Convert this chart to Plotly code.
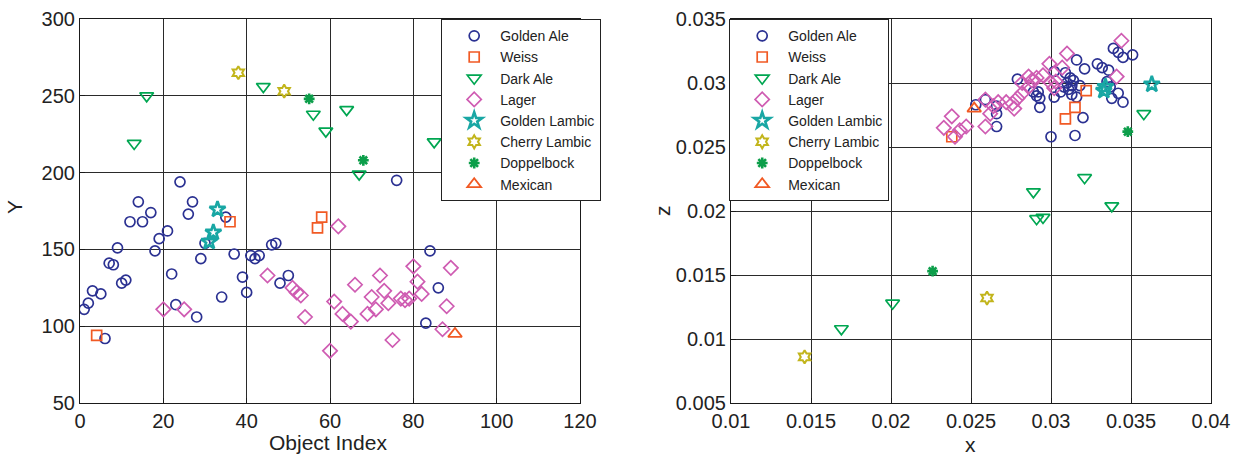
import plotly.graph_objects as go

# ---- Y vs object index ----
ale_idx = [1, 2, 3, 5, 6, 7, 8, 9, 10, 11, 12, 14, 15, 17, 18, 19, 21, 22, 23, 24,
           26, 27, 28, 29, 30, 34, 35, 37, 39, 40, 41, 42, 43, 46, 47, 48, 50, 76, 83, 84, 86]
ale_y = [111, 115, 123, 121, 92, 141, 140, 151, 128, 130, 168, 181, 168, 174, 149, 157, 162, 134, 114, 194,
         173, 181, 106, 144, 154, 119, 171, 147, 132, 122, 146, 144, 146, 153, 154, 128, 133, 195, 102, 149, 125]
weiss_idx = [4, 36, 57, 58]
weiss_y = [94, 168, 164, 171]
dark_idx = [13, 16, 44, 56, 59, 64, 67, 85]
dark_y = [219, 250, 256, 238, 227, 241, 199, 220]
lager_idx = [20, 25, 45, 51, 52, 53, 54, 60, 61, 62, 63, 65, 66, 69, 70, 71, 72, 73, 74, 75,
             77, 78, 79, 80, 81, 82, 87, 88, 89]
lager_y = [111, 111, 133, 125, 122, 120, 106, 84, 116, 165, 108, 103, 127, 108, 119, 111, 133, 123, 115, 91,
           118, 117, 118, 139, 129, 121, 98, 113, 138]
glambic_idx = [31, 32, 33]
glambic_y = [155, 161, 176]
cherry_idx = [38, 49]
cherry_y = [265, 253]
doppel_idx = [55, 68]
doppel_y = [248, 208]
mexican_idx = [90]
mexican_y = [95]

# ---- z vs x ----
ale_x = [0.0339, 0.0342, 0.0345, 0.0351, 0.0316, 0.0321, 0.0329, 0.0332, 0.0336, 0.0335,
         0.0342, 0.0338, 0.0345, 0.0320, 0.0315, 0.0300, 0.0302, 0.0309, 0.0312, 0.0310,
         0.0313, 0.0318, 0.0311, 0.0313, 0.0316, 0.0302, 0.0279, 0.0289, 0.0292, 0.0293,
         0.0293, 0.0266, 0.0259, 0.0266, 0.0266, 0.0253, 0.0308, 0.0314, 0.0291, 0.0337, 0.0306]
ale_z = [0.0327, 0.0324, 0.0320, 0.0322, 0.0318, 0.0311, 0.0315, 0.0312, 0.0310, 0.0301,
         0.0292, 0.0288, 0.0285, 0.0273, 0.0259, 0.0258, 0.0309, 0.0308, 0.0304, 0.0300,
         0.0298, 0.0298, 0.0295, 0.0291, 0.0289, 0.0289, 0.0303, 0.0293, 0.0293, 0.0288,
         0.0281, 0.0282, 0.0287, 0.0276, 0.0266, 0.0283, 0.0297, 0.0302, 0.0290, 0.0297, 0.0293]
weiss_x = [0.0322, 0.0315, 0.0309, 0.0238]
weiss_z = [0.0294, 0.0281, 0.0272, 0.0258]
dark_x = [0.0358, 0.0321, 0.0289, 0.0291, 0.0295, 0.0338, 0.0201, 0.0169]
dark_z = [0.0276, 0.0226, 0.0215, 0.0194, 0.0195, 0.0204, 0.0128, 0.0108]
lager_x = [0.0344, 0.0310, 0.0341, 0.0299, 0.0307, 0.0302, 0.0303, 0.0295, 0.0291, 0.0286,
           0.0282, 0.0286, 0.0282, 0.0279, 0.0272, 0.0277, 0.0267, 0.0259, 0.0262, 0.0259,
           0.0247, 0.0238, 0.0233, 0.0243, 0.0240, 0.0300, 0.0288, 0.0276, 0.0264]
lager_z = [0.0333, 0.0323, 0.0305, 0.0315, 0.0312, 0.0296, 0.0301, 0.0306, 0.0304, 0.0305,
           0.0300, 0.0297, 0.0292, 0.0288, 0.0285, 0.0280, 0.0285, 0.0287, 0.0276, 0.0266,
           0.0266, 0.0274, 0.0265, 0.0263, 0.0258, 0.0300, 0.0302, 0.0284, 0.0282]
glambic_x = [0.0334, 0.0333, 0.0363]
glambic_z = [0.0297, 0.0294, 0.0299]
cherry_x = [0.0146, 0.0260]
cherry_z = [0.0086, 0.0132]
doppel_x = [0.0348, 0.0226]
doppel_z = [0.0262, 0.0153]
mexican_x = [0.0252]
mexican_z = [0.0280]

FONT = "Liberation Sans, Arial, sans-serif"
TXT = "#222222"

beers = [
    # name, symbol, colour, size, line width, left data, right data
    ("Golden Ale", "circle-open", "#2B3192", 10, 1.7, (ale_idx, ale_y), (ale_x, ale_z)),
    ("Weiss", "square-open", "#F15A24", 10, 1.7, (weiss_idx, weiss_y), (weiss_x, weiss_z)),
    ("Dark Ale", "triangle-down-open", "#00A651", 12, 1.7, (dark_idx, dark_y), (dark_x, dark_z)),
    ("Lager", "diamond-open", "#CF5CB2", 11, 1.7, (lager_idx, lager_y), (lager_x, lager_z)),
    ("Golden Lambic", "star-open", "#19A7A4", 12, 2.6, (glambic_idx, glambic_y), (glambic_x, glambic_z)),
    ("Cherry Lambic", "hexagram-open", "#C2B51C", 10, 2.0, (cherry_idx, cherry_y), (cherry_x, cherry_z)),
    ("Doppelbock", "asterisk-open", "#0C9E4A", 9, 2.6, (doppel_idx, doppel_y), (doppel_x, doppel_z)),
    ("Mexican", "triangle-up-open", "#F15A24", 12, 1.8, (mexican_idx, mexican_y), (mexican_x, mexican_z)),
]

fig = go.Figure()
for name, sym, col, size, lw, (lx, ly), (rx, rz) in beers:
    marker = dict(symbol=sym, size=size, color=col, line=dict(color=col, width=lw))
    fig.add_trace(go.Scatter(x=lx, y=ly, mode="markers", name=name, marker=marker,
                             xaxis="x", yaxis="y", legend="legend"))
    fig.add_trace(go.Scatter(x=rx, y=rz, mode="markers", name=name, marker=marker,
                             xaxis="x2", yaxis="y2", legend="legend2"))

W, H = 1239, 458
ydom = [1 - 403 / H, 1 - 19 / H]

axis_common = dict(
    showgrid=True, gridcolor="#2a2a2a", gridwidth=1,
    showline=True, linecolor="#1a1a1a", linewidth=1.2, mirror=True,
    zeroline=False, ticks="inside", ticklen=5, tickcolor="#1a1a1a",
    tickfont=dict(family=FONT, size=20, color=TXT), automargin=False,
)

legend_common = dict(
    bgcolor="white", bordercolor="#222222", borderwidth=1.2,
    font=dict(family=FONT, size=14, color=TXT),
    xanchor="left", yanchor="top", y=ydom[1], tracegroupgap=0,
    indentation=6, itemwidth=42,
)


def label(text, px, py, angle=0):
    return dict(text=text, x=px / W, y=1 - py / H, xref="paper", yref="paper",
                xanchor="center", yanchor="middle", textangle=angle,
                showarrow=False, font=dict(family=FONT, size=21, color=TXT))


fig.update_layout(
    width=W, height=H,
    margin=dict(l=0, r=0, t=0, b=0, autoexpand=False),
    paper_bgcolor="white", plot_bgcolor="white",
    xaxis=dict(domain=[80 / W, 580 / W], range=[0, 120], dtick=20, anchor="y", **axis_common),
    yaxis=dict(domain=ydom, range=[50, 300], dtick=50, anchor="x", **axis_common),
    xaxis2=dict(domain=[731 / W, 1211 / W], range=[0.01, 0.04], dtick=0.005, anchor="y2", **axis_common),
    yaxis2=dict(domain=ydom, range=[0.005, 0.035], dtick=0.005, anchor="x2", **axis_common),
    legend=dict(x=441 / W, **legend_common),
    legend2=dict(x=729 / W, **legend_common),
    annotations=[
        label("Object Index", 328, 442),
        label("Y", 14, 207, -90),
        label("x", 970, 444),
        label("z", 662, 211, -90),
    ],
)

fig.write_html("out.html")
